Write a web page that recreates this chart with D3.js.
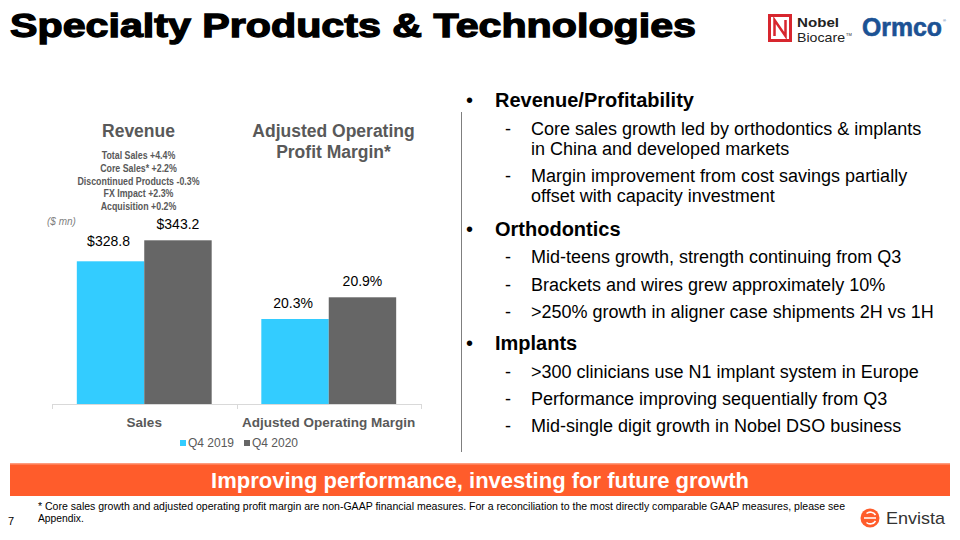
<!DOCTYPE html>
<html><head><meta charset="utf-8">
<script src="https://cdn.jsdelivr.net/npm/d3@7"></script>
<style>
html,body{margin:0;padding:0;background:#fff;}
svg{display:block;font-family:"Liberation Sans",Arial,sans-serif;}
</style></head>
<body><svg id="c" width="960" height="540"></svg>
<script>
// ---- data ----
const categories = ["Sales", "Adjusted Operating Margin"];
const seriesNames = ["Q4 2019", "Q4 2020"];
const q4_2019 = [328.8, 20.3];
const q4_2020 = [343.2, 20.9];
const seriesColors = ["#33CCFF", "#666666"];
const revenueNotes = ["Total Sales +4.4%", "Core Sales* +2.2%", "Discontinued Products -0.3%", "FX Impact +2.3%", "Acquisition +0.2%"];
const bulletHeads = ["Revenue/Profitability", "Orthodontics", "Implants"];
const bulletItems = [
  [["Core sales growth led by orthodontics & implants", "in China and developed markets"],
   ["Margin improvement from cost savings partially", "offset with capacity investment"]],
  [["Mid-teens growth, strength continuing from Q3"],
   ["Brackets and wires grew approximately 10%"],
   [">250% growth in aligner case shipments 2H vs 1H"]],
  [[">300 clinicians use N1 implant system in Europe"],
   ["Performance improving sequentially from Q3"],
   ["Mid-single digit growth in Nobel DSO business"]]
];

const svg = d3.select("#c");
svg.append("rect").attr("width",960).attr("height",540).attr("fill","#fff");

// ---- title ----
svg.append("text").attr("x",10).attr("y",37)
  .attr("font-size",34).attr("font-weight","bold").attr("fill","#000")
  .attr("stroke","#000").attr("stroke-width",1.3)
  .attr("textLength",686).attr("lengthAdjust","spacingAndGlyphs")
  .text("Specialty Products & Technologies");

// ---- logos ----
const nb = svg.append("g");
nb.append("rect").attr("x",769.5).attr("y",15.5).attr("width",21).attr("height",25)
  .attr("fill","none").attr("stroke","#D7262E").attr("stroke-width",3);
nb.append("path").attr("d","M774.5,36 L774.5,20 L785.5,36 L785.5,20")
  .attr("fill","none").attr("stroke","#D7262E").attr("stroke-width",2.5);
nb.append("text").attr("x",797).attr("y",26.5).attr("font-size",13.5).attr("font-weight","bold").attr("fill","#222")
  .attr("textLength",42).attr("lengthAdjust","spacingAndGlyphs").text("Nobel");
nb.append("text").attr("x",797).attr("y",41.5).attr("font-size",13).attr("fill","#222")
  .attr("textLength",48).attr("lengthAdjust","spacingAndGlyphs").text("Biocare");
nb.append("text").attr("x",846).attr("y",36).attr("font-size",4).attr("fill","#222").text("TM");
svg.append("text").attr("x",862).attr("y",36).attr("font-size",25).attr("font-weight","bold")
  .attr("fill","#1C5294").attr("stroke","#1C5294").attr("stroke-width",0.6)
  .attr("textLength",80).attr("lengthAdjust","spacingAndGlyphs").text("Ormco");
svg.append("text").attr("x",943).attr("y",22).attr("font-size",4).attr("fill","#1C5294").text("®");

// ---- chart ----
const baseY = 404;
const x = d3.scaleBand().domain(categories).range([52, 421]).paddingInner(0).paddingOuter(0);
const xs = d3.scaleBand().domain(seriesNames).range([0, x.bandwidth()]).paddingInner(0).paddingOuter(0.368);
// each category is drawn on its own (truncated) value scale, as in the source slide
const yScales = {
  "Sales": d3.scaleLinear().domain([230.95, 343.2]).range([baseY, 240.3]),
  "Adjusted Operating Margin": d3.scaleLinear().domain([17.95, 20.9]).range([baseY, 297.3])
};
const fmt = {
  "Sales": v => "$" + v.toFixed(1),
  "Adjusted Operating Margin": v => v.toFixed(1) + "%"
};
const series = [q4_2019, q4_2020];
const bars = [];
categories.forEach((c, ci) => seriesNames.forEach((s, si) => bars.push({c, s, si, v: series[si][ci]})));

const g = svg.append("g");
g.selectAll("rect.bar").data(bars).join("rect").attr("class","bar")
  .attr("x", d => x(d.c) + xs(d.s)).attr("width", xs.bandwidth())
  .attr("y", d => yScales[d.c](d.v)).attr("height", d => baseY - yScales[d.c](d.v))
  .attr("fill", d => seriesColors[d.si]);
g.selectAll("text.val").data(bars).join("text").attr("class","val")
  .attr("x", d => x(d.c) + xs(d.s) + xs.bandwidth()/2 - (d.si===0 ? 2 : 0))
  .attr("y", d => yScales[d.c](d.v) - (d.si===0 && d.c==="Sales" ? 15 : 11))
  .attr("text-anchor","middle").attr("font-size",14).attr("fill","#000")
  .text(d => fmt[d.c](d.v));

// axis line with ticks at band edges
const ax = g.append("g").attr("stroke","#D9D9D9").attr("stroke-width",1);
ax.append("line").attr("x1", x.range()[0]).attr("x2", x.range()[1]).attr("y1", baseY+0.5).attr("y2", baseY+0.5);
const edges = categories.map(c => x(c)).concat([x.range()[1]]);
ax.selectAll("line.t").data(edges).join("line").attr("class","t")
  .attr("x1", d => Math.round(d)+0.5).attr("x2", d => Math.round(d)+0.5).attr("y1", baseY).attr("y2", baseY+5);
g.selectAll("text.cat").data(categories).join("text").attr("class","cat")
  .attr("x", d => x(d) + x.bandwidth()/2).attr("y", 427).attr("text-anchor","middle")
  .attr("font-size",13.5).attr("font-weight","bold").attr("fill","#595959").text(d => d);

// legend
const lg = g.append("g");
const legX = [180, 244];
seriesNames.forEach((s, i) => {
  lg.append("rect").attr("x", legX[i]).attr("y", 440).attr("width", 6).attr("height", 6).attr("fill", seriesColors[i]);
  lg.append("text").attr("x", legX[i] + 8).attr("y", 446.5).attr("font-size", 12).attr("fill", "#595959").text(s);
});

// chart titles
svg.append("text").attr("x",138.5).attr("y",137).attr("text-anchor","middle").attr("font-size",17.5)
  .attr("font-weight","bold").attr("fill","#595959").text("Revenue");
svg.append("text").attr("x",333.5).attr("y",137).attr("text-anchor","middle").attr("font-size",17.5)
  .attr("font-weight","bold").attr("fill","#595959").text("Adjusted Operating");
svg.append("text").attr("x",333.5).attr("y",158).attr("text-anchor","middle").attr("font-size",17.5)
  .attr("font-weight","bold").attr("fill","#595959").text("Profit Margin*");
const notes = svg.selectAll("text.note").data(revenueNotes).join("text").attr("class","note")
  .attr("x",138.5).attr("y",(d,i)=>159+i*12.8).attr("text-anchor","middle")
  .attr("font-size",10.5).attr("font-weight","bold").attr("fill","#595959").text(d=>d);
// condense to mimic a narrow face
notes.each(function(){ const L = this.getComputedTextLength(); d3.select(this).attr("textLength", L*0.84).attr("lengthAdjust","spacingAndGlyphs"); });
svg.append("text").attr("x",47).attr("y",225).attr("font-size",10).attr("font-style","italic")
  .attr("fill","#7F7F7F").text("($ mn)");

// ---- right panel ----
svg.append("line").attr("x1",461.5).attr("x2",461.5).attr("y1",112).attr("y2",452)
  .attr("stroke","#7F7F7F").attr("stroke-width",1);
const headY = [107, 236, 350];
const itemY = [[[135,155],[182,202]], [[263],[291],[318]], [[378],[405],[432]]];
const rp = svg.append("g");
bulletHeads.forEach((h, hi) => {
  rp.append("text").attr("x",466).attr("y",headY[hi]).attr("font-size",20).attr("fill","#000").text("•");
  rp.append("text").attr("x",495).attr("y",headY[hi]).attr("font-size",20).attr("font-weight","bold").attr("fill","#000").text(h);
  bulletItems[hi].forEach((lines, li) => {
    rp.append("text").attr("x",505).attr("y",itemY[hi][li][0]).attr("font-size",18).attr("fill","#000").text("-");
    lines.forEach((ln, k) => {
      rp.append("text").attr("x",531).attr("y",itemY[hi][li][k]).attr("font-size",18).attr("fill","#000").text(ln);
    });
  });
});

// ---- banner ----
svg.append("rect").attr("x",10).attr("y",463).attr("width",940).attr("height",33).attr("fill","#FF5C2B");
svg.append("rect").attr("x",10).attr("y",463).attr("width",940).attr("height",1.5).attr("fill","#FF9C7E");
svg.append("text").attr("x",480).attr("y",488).attr("text-anchor","middle").attr("font-size",22)
  .attr("font-weight","bold").attr("fill","#fff").text("Improving performance, investing for future growth");

// ---- footnote ----
svg.append("text").attr("x",38).attr("y",510).attr("font-size",10.3).attr("fill","#000")
  .attr("textLength",807).attr("lengthAdjust","spacingAndGlyphs")
  .text("* Core sales growth and adjusted operating profit margin are non-GAAP financial measures. For a reconciliation to the most directly comparable GAAP measures, please see");
svg.append("text").attr("x",38).attr("y",522).attr("font-size",10.3).attr("fill","#000").text("Appendix.");
svg.append("text").attr("x",8).attr("y",525).attr("font-size",11).attr("fill","#000").text("7");

// Envista logo
const ev = svg.append("g");
ev.append("circle").attr("cx",870).attr("cy",518).attr("r",9.5).attr("fill","#FF5C2B");
ev.append("path").attr("d","M864,518 L876,518 M866.5,513.5 A6,6 0 0 1 875.5,515 M866.5,522.5 A6,6 0 0 0 875.5,521")
  .attr("fill","none").attr("stroke","#fff").attr("stroke-width",1.6);
ev.append("text").attr("x",886).attr("y",524).attr("font-size",17).attr("fill","#333")
  .attr("textLength",59).attr("lengthAdjust","spacingAndGlyphs").text("Envista");
</script></body></html>
